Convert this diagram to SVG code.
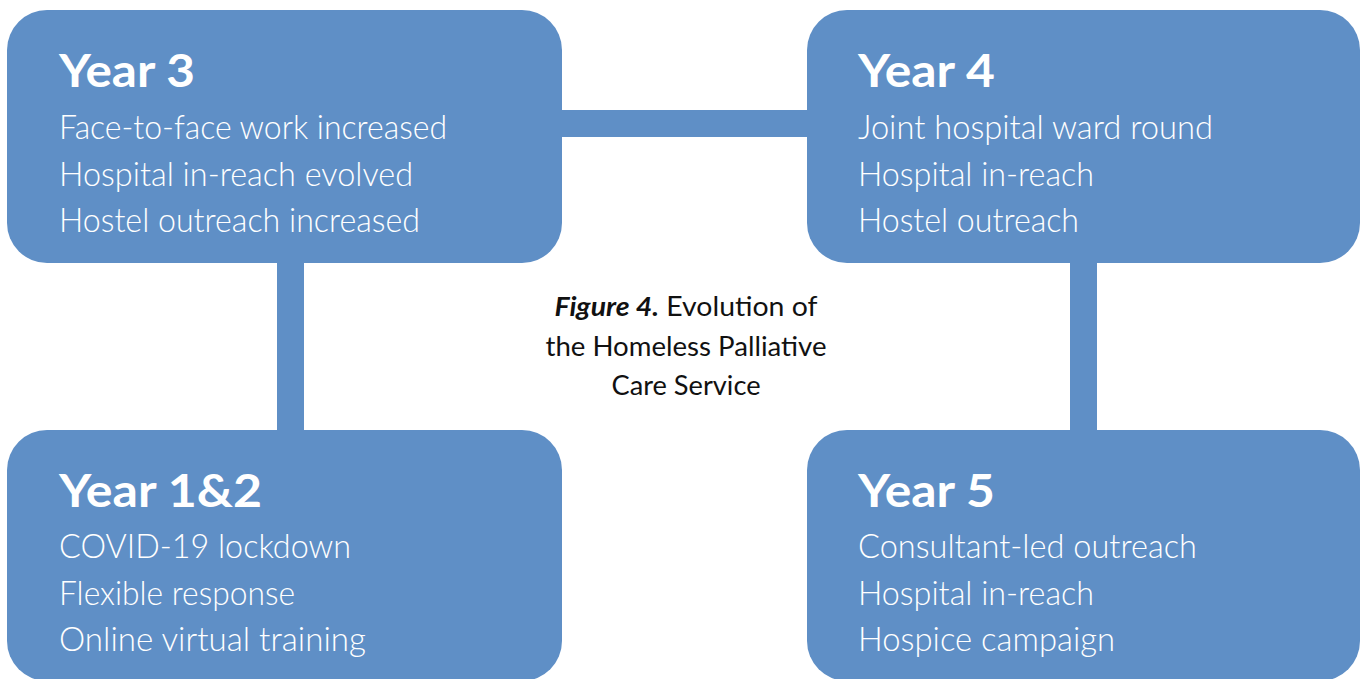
<svg xmlns="http://www.w3.org/2000/svg" width="1367" height="679" viewBox="0 0 1367 679">
  <style>
    .box { fill: #5f8fc6; }
    .bar { fill: #5f8fc6; }
    .title { font-family: Lato, "Open Sans", "Liberation Sans", sans-serif; font-weight: 700; font-size: 46px; fill: #ffffff; }
    .item { font-family: Lato, "Open Sans", "Liberation Sans", sans-serif; font-weight: 300; font-size: 33px; fill: #ffffff; }
    .cap { font-family: Lato, "Open Sans", "Liberation Sans", sans-serif; font-size: 26px; fill: #111111; }
    .capb { font-weight: 700; font-style: italic; }
  </style>
  <rect width="1367" height="679" fill="#ffffff"/>

  <!-- connecting bars between the year boxes -->
  <g id="connectors">
    <rect class="bar" x="555" y="110" width="258" height="27"/>
    <rect class="bar" x="277" y="255" width="27" height="182"/>
    <rect class="bar" x="1070" y="255" width="27" height="182"/>
  </g>

  <g id="year3">
    <rect class="box" x="7" y="10" width="555" height="253" rx="40"/>
    <text class="title" x="59" y="87" textLength="136" lengthAdjust="spacingAndGlyphs">Year 3</text>
    <text class="item" x="59" y="139" textLength="388" lengthAdjust="spacingAndGlyphs">Face-to-face work increased</text>
    <text class="item" x="59" y="186" textLength="354" lengthAdjust="spacingAndGlyphs">Hospital in-reach evolved</text>
    <text class="item" x="59" y="232" textLength="361" lengthAdjust="spacingAndGlyphs">Hostel outreach increased</text>
  </g>

  <g id="year4">
    <rect class="box" x="807" y="10" width="553" height="253" rx="40"/>
    <text class="title" x="858" y="87" textLength="137" lengthAdjust="spacingAndGlyphs">Year 4</text>
    <text class="item" x="858" y="139" textLength="355" lengthAdjust="spacingAndGlyphs">Joint hospital ward round</text>
    <text class="item" x="858" y="186" textLength="236" lengthAdjust="spacingAndGlyphs">Hospital in-reach</text>
    <text class="item" x="858" y="232" textLength="221" lengthAdjust="spacingAndGlyphs">Hostel outreach</text>
  </g>

  <g id="year1and2">
    <rect class="box" x="7" y="430" width="555" height="251" rx="40"/>
    <text class="title" x="59" y="507" textLength="203" lengthAdjust="spacingAndGlyphs">Year 1&amp;2</text>
    <text class="item" x="59" y="558" textLength="292" lengthAdjust="spacingAndGlyphs">COVID-19 lockdown</text>
    <text class="item" x="59" y="605" textLength="236" lengthAdjust="spacingAndGlyphs">Flexible response</text>
    <text class="item" x="59" y="651" textLength="307" lengthAdjust="spacingAndGlyphs">Online virtual training</text>
  </g>

  <g id="year5">
    <rect class="box" x="807" y="430" width="553" height="251" rx="40"/>
    <text class="title" x="858" y="507" textLength="137" lengthAdjust="spacingAndGlyphs">Year 5</text>
    <text class="item" x="858" y="558" textLength="339" lengthAdjust="spacingAndGlyphs">Consultant-led outreach</text>
    <text class="item" x="858" y="605" textLength="236" lengthAdjust="spacingAndGlyphs">Hospital in-reach</text>
    <text class="item" x="858" y="651" textLength="257" lengthAdjust="spacingAndGlyphs">Hospice campaign</text>
  </g>

  <g id="caption" text-anchor="middle">
    <text class="cap" x="686" y="316" textLength="263" lengthAdjust="spacingAndGlyphs"><tspan class="capb">Figure 4.</tspan> Evolution of</text>
    <text class="cap" x="686" y="356" textLength="281" lengthAdjust="spacingAndGlyphs">the Homeless Palliative</text>
    <text class="cap" x="686" y="395" textLength="149" lengthAdjust="spacingAndGlyphs">Care Service</text>
  </g>
</svg>
